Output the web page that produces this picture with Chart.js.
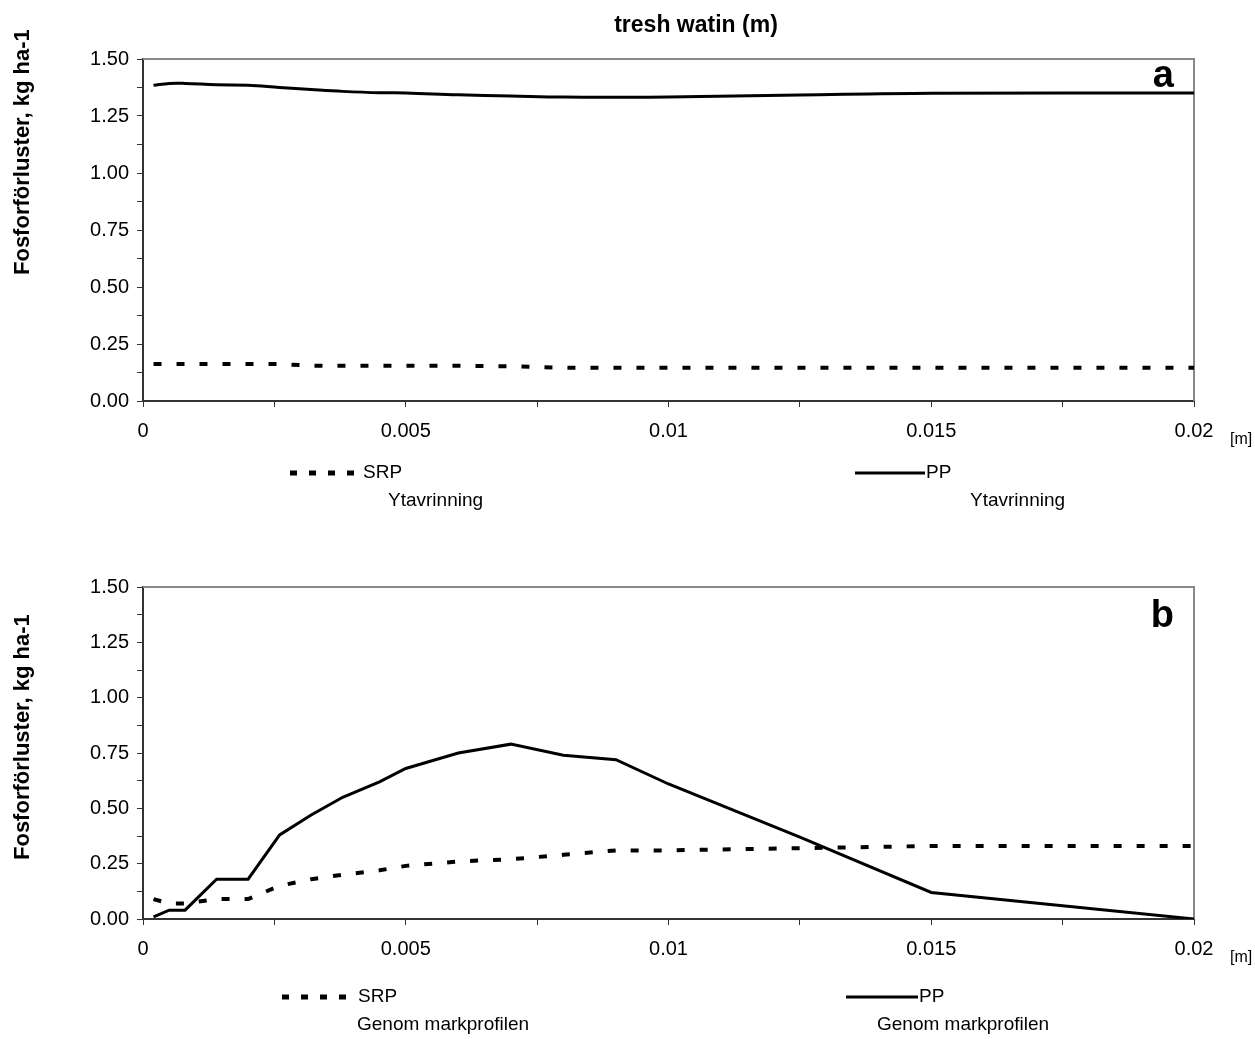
<!DOCTYPE html>
<html>
<head>
<meta charset="utf-8">
<title>Fosforförluster</title>
<script src="https://cdn.jsdelivr.net/npm/chart.js@4.4.1/dist/chart.umd.min.js"></script>
<style>
  body { margin: 0; background: #fff; }
  canvas { display: block; }
</style>
</head>
<body>
<canvas id="chartA" width="1255" height="520"></canvas>
<canvas id="chartB" width="1255" height="519"></canvas>
<script>
// tresh watin (m)
const depths = [0.0002, 0.0005, 0.0008, 0.0014, 0.002, 0.0026, 0.0032, 0.0038, 0.0045,
                0.005, 0.006, 0.007, 0.008, 0.009, 0.01, 0.0125, 0.015, 0.02];

// a: Ytavrinning
const srpSurface = [0.162, 0.162, 0.162, 0.162, 0.162, 0.162, 0.155, 0.155, 0.155,
                    0.155, 0.155, 0.152, 0.146, 0.146, 0.146, 0.146, 0.146, 0.146];
const ppSurface = [1.385, 1.393, 1.393, 1.387, 1.385, 1.375, 1.366, 1.358, 1.352,
                   1.351, 1.343, 1.338, 1.333, 1.332, 1.333, 1.342, 1.35, 1.351];

// b: Genom markprofilen
const srpProfile = [0.09, 0.07, 0.07, 0.09, 0.09, 0.15, 0.18, 0.2, 0.22,
                    0.24, 0.26, 0.27, 0.29, 0.31, 0.31, 0.32, 0.33, 0.33];
const ppProfile = [0.01, 0.04, 0.04, 0.18, 0.18, 0.38, 0.47, 0.55, 0.62,
                   0.68, 0.75, 0.79, 0.74, 0.72, 0.61, 0.37, 0.12, 0.0];

const FONT = '"Liberation Sans", Arial, sans-serif';
const AXIS = '#333333';
const SRP_DASH = [8, 15];

function points(values) {
  return depths.map((d, i) => ({ x: d, y: values[i] }));
}

// frame, panel letter, axis titles and the two-line legend
const panelDecor = {
  id: 'panelDecor',
  beforeDatasetsDraw(chart, args, opts) {
    const { ctx, chartArea: a } = chart;
    ctx.save();
    ctx.strokeStyle = '#888888';
    ctx.lineWidth = 2;
    ctx.beginPath();
    ctx.moveTo(a.left, a.top);
    ctx.lineTo(a.right, a.top);
    ctx.lineTo(a.right, a.bottom);
    ctx.stroke();
    ctx.restore();
  },
  afterDraw(chart, args, opts) {
    const { ctx, chartArea: a } = chart;
    ctx.save();
    ctx.fillStyle = '#000';

    if (opts.title) {
      ctx.font = 'bold 23px ' + FONT;
      ctx.textAlign = 'center';
      ctx.textBaseline = 'alphabetic';
      ctx.fillText(opts.title, 696, 32);
    }

    ctx.font = 'bold 38px ' + FONT;
    ctx.textAlign = 'right';
    ctx.fillText(opts.letter, 1174, opts.letterY);

    ctx.font = '16px ' + FONT;
    ctx.textAlign = 'left';
    ctx.textBaseline = 'middle';
    ctx.fillText('[m]', 1230, a.bottom + 39);

    // y axis title
    ctx.save();
    ctx.translate(23, opts.yTitleBottom);
    ctx.rotate(-Math.PI / 2);
    ctx.font = 'bold 22px ' + FONT;
    ctx.textAlign = 'left';
    ctx.textBaseline = 'middle';
    ctx.fillText('Fosforförluster, kg ha-1', 0, 0);
    ctx.restore();

    // legend entries
    opts.legend.forEach(item => {
      const ds = chart.data.datasets[item.dataset];
      ctx.save();
      ctx.strokeStyle = ds.borderColor;
      ctx.lineWidth = ds.borderDash ? 5 : 3;
      ctx.setLineDash(ds.borderDash ? [7, 12] : []);
      ctx.beginPath();
      ctx.moveTo(item.x0, item.y);
      ctx.lineTo(item.x1, item.y);
      ctx.stroke();
      ctx.restore();
      ctx.font = '19px ' + FONT;
      ctx.textAlign = 'left';
      ctx.textBaseline = 'middle';
      ctx.fillText(ds.label, item.x1 + 1, item.y);
      ctx.fillText(opts.sub, item.subX, item.y + 28);
    });
    ctx.restore();
  }
};

function makeChart(id, srp, pp, smooth, decor, topPad) {
  return new Chart(document.getElementById(id), {
    type: 'line',
    data: {
      datasets: [{
        label: 'SRP',
        data: points(srp),
        borderColor: '#000',
        borderWidth: 4,
        borderDash: SRP_DASH,
        borderCapStyle: 'butt',
        pointRadius: 0,
        tension: 0
      }, {
        label: 'PP',
        data: points(pp),
        borderColor: '#000',
        borderWidth: 3,
        pointRadius: 0,
        tension: smooth ? 0.4 : 0
      }]
    },
    options: {
      responsive: false,
      animation: false,
      layout: { padding: { left: 0, top: topPad, right: 61, bottom: 0 } },
      plugins: {
        legend: { display: false },
        tooltip: { enabled: false },
        panelDecor: decor
      },
      scales: {
        x: {
          type: 'linear',
          min: 0,
          max: 0.02,
          afterFit(scale) { scale.height = 519 - 399 - (topPad > 59 ? 0 : 1); },
          border: { color: AXIS, width: 2 },
          grid: { drawOnChartArea: false, color: AXIS, tickLength: 6, lineWidth: 1 },
          ticks: {
            stepSize: 0.0025,
            maxRotation: 0,
            autoSkip: false,
            padding: 12,
            color: '#000',
            font: { family: FONT, size: 20 },
            callback(v) {
              if (Math.round(v / 0.0025) % 2 !== 0) return '';
              return String(parseFloat(v.toFixed(4)));
            }
          }
        },
        y: {
          min: 0,
          max: 1.5,
          afterFit(scale) { scale.width = 143; },
          border: { color: AXIS, width: 2 },
          grid: { drawOnChartArea: false, color: AXIS, tickLength: 6, lineWidth: 1 },
          ticks: {
            stepSize: 0.125,
            autoSkip: false,
            padding: 8,
            color: '#000',
            font: { family: FONT, size: 20 },
            callback(v) {
              if (Math.round(v / 0.125) % 2 !== 0) return '';
              return v.toFixed(2);
            }
          }
        }
      }
    },
    plugins: [panelDecor]
  });
}

makeChart('chartA', srpSurface, ppSurface, true, {
  title: 'tresh watin (m)',
  letter: 'a',
  letterY: 87,
  yTitleBottom: 275,
  sub: 'Ytavrinning',
  legend: [
    { dataset: 0, x0: 290, x1: 362, y: 473, subX: 388 },
    { dataset: 1, x0: 855, x1: 925, y: 473, subX: 970 }
  ]
}, 59);

makeChart('chartB', srpProfile, ppProfile, false, {
  letter: 'b',
  letterY: 107,
  yTitleBottom: 340,
  sub: 'Genom markprofilen',
  legend: [
    { dataset: 0, x0: 282, x1: 357, y: 477, subX: 357 },
    { dataset: 1, x0: 846, x1: 918, y: 477, subX: 877 }
  ]
}, 67);
</script>
</body>
</html>
